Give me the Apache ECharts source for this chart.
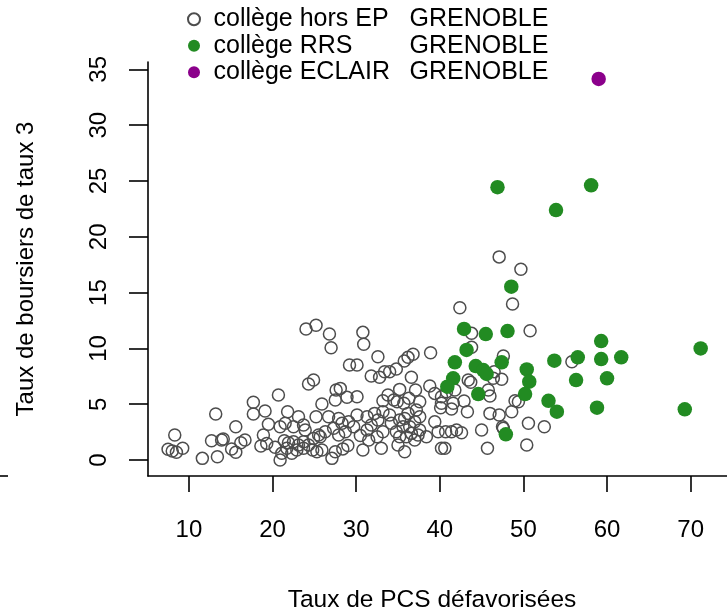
<!DOCTYPE html>
<html>
<head>
<meta charset="utf-8">
<script src="https://cdn.jsdelivr.net/npm/echarts@6/dist/echarts.min.js"></script>
<style>
html,body{margin:0;padding:0;background:#fff;}
#chart{width:727px;height:610px;}
</style>
</head>
<body>
<div id="chart"></div>
<script>
// ---- data ----
var seriesNames = ['collège hors EP', 'collège RRS', 'collège ECLAIR'];
var cityName = 'GRENOBLE';
var xTicks = [10, 20, 30, 40, 50, 60, 70];
var yTicks = [0, 5, 10, 15, 20, 25, 30, 35];
var xTitle = 'Taux de PCS défavorisées';
var yTitle = 'Taux de boursiers de taux 3';

var horsEP = [
  [7.5,0.96],[8.0,0.81],[8.5,0.69],[9.25,1.05],[8.3,2.24],[11.6,0.15],[13.4,0.3],[12.7,1.73],[13.9,1.79],[14.1,1.88],
  [13.2,4.12],[15.1,0.99],[15.6,0.69],[16.2,1.55],[16.7,1.79],[15.6,2.98],[17.7,5.17],[17.7,4.12],[19.1,4.39],[18.9,2.24],
  [18.6,1.25],[19.3,1.49],[19.5,3.2],
  [20.3,1.14],[20.9,0],[20.9,2.98],[20.7,5.82],[21.5,3.29],[21.8,4.33],[22.5,2.98],[23.1,3.88],[23.7,3.14],[23.9,2.69],
  [21.4,1.73],[21.9,1.55],[22.5,1.64],[23.1,1.34],[23.7,1.64],[24.3,1.34],[24.8,0.9],[25.3,0.74],[25.9,0.9],[21.7,1.05],
  [22.3,0.6],[21.1,0.6],[22.9,0.9],[23.7,1.05],[24.0,11.74],[25.2,12.07],[24.3,6.81],[24.9,7.17],[24.9,1.94],[25.5,2.24],[25.2,3.88],
  [26.8,11.29],[27.0,10.06],[25.9,5.02],[27.6,6.27],[27.5,5.38],[26.7,3.88],[27.9,3.73],[28.3,3.29],[29.1,3.43],[29.7,2.98],
  [28.7,2.54],[27.9,2.24],[27.3,2.84],[26.3,2.54],[25.7,2.09],[27.1,0.15],[27.5,0.74],[28.1,6.42],[28.9,5.62],[30.1,5.67],
  [29.2,8.51],[30.1,8.51],[30.8,11.44],[30.9,10.37],[30.1,4.03],[30.8,0.9],[29.0,1.3],[28.4,1.0],
  [31.3,3.88],[32.2,4.18],[33.2,4.33],[34.0,4.03],[32.6,3.58],[31.8,3.14],[31.3,2.69],[32.5,2.09],[33.2,2.54],[34.2,3.29],
  [33.0,1.05],[32.6,9.26],[31.8,7.53],[32.8,7.41],[33.4,7.91],[34.0,7.91],[34.8,8.15],[33.8,5.82],[34.5,5.38],[33.2,5.31],
  [34.9,5.22],[34.8,2.54],[35.0,1.34],[31.5,1.8],[30.5,2.2],
  [35.2,6.33],[35.7,5.08],[36.3,5.53],[37.1,6.27],[37.6,5.22],[35.75,8.87],[36.2,9.2],[36.8,9.47],[36.6,7.41],[38.8,6.63],
  [38.9,9.61],[35.2,3.58],[35.8,3.73],[36.2,4.18],[37.2,4.48],[37.6,3.88],[37.0,3.43],[36.4,2.98],[35.6,2.98],[35.2,2.09],
  [36.0,2.09],[36.6,2.39],[37.4,2.24],[37.0,1.79],[38.4,2.09],[35.8,0.74],[39.4,3.43],[39.8,2.54],[39.4,5.97],[37.6,2.69],
  [40.2,5.67],[40.8,6.12],[41.8,6.27],[42.9,5.29],[43.3,4.33],[40.2,5.08],[41.6,5.08],[41.4,4.57],[40.1,4.69],[40.7,2.54],
  [41.4,2.54],[42.0,2.69],[42.6,2.45],[45.0,2.69],[47.5,2.98],[48.6,4.33],[49.4,5.22],[40.2,1.05],[40.6,1.05],[45.7,1.05],
  [42.4,13.65],[48.7,13.98],[47.1,18.2],[49.7,17.1],[50.8,11.59],[43.8,11.35],[43.8,10.1],[55.8,8.81],[47.6,9.32],[46.5,7.91],
  [43.4,7.17],[43.7,6.96],[46.4,7.32],[47.4,7.23],[45.8,6.27],[46.0,5.73],[49.0,5.31],[46.0,4.18],[47.1,4.03],[50.6,3.29],
  [52.5,2.98],[47.6,2.84],[50.4,1.34]
];
var rrs = [
  [46.9,24.44],[58.1,24.61],[53.9,22.4],[48.55,15.53],[42.9,11.74],[45.5,11.29],[48.1,11.56],[59.3,10.66],[71.2,10.0],
  [43.2,9.86],[41.8,8.75],[47.4,8.75],[44.3,8.42],[45.2,8.06],[45.6,7.71],[50.4,8.12],[53.7,8.9],[56.5,9.2],[59.3,9.05],
  [61.7,9.2],[41.6,7.32],[40.9,6.57],[50.7,7.02],[56.3,7.17],[60.0,7.32],[44.6,5.91],[50.2,5.91],[53.0,5.31],[54.0,4.33],
  [58.8,4.69],[69.3,4.54],[47.9,2.3]
];
var eclair = [[59.0,34.14]];

// ---- chart ----
var FONT = '"Liberation Sans", Arial, Helvetica, sans-serif';
var chart = echarts.init(document.getElementById('chart'), null, {renderer: 'canvas'});
var fullNames = seriesNames.map(function (n) { return n + '  ' + cityName; });

var option = {
  animation: false,
  backgroundColor: '#ffffff',
  textStyle: {fontFamily: FONT},
  grid: {left: 148, right: 0, top: 62, bottom: 134, containLabel: false, outerBoundsMode: 'none'},
  legend: {
    orient: 'vertical',
    left: 187,
    top: 6,
    padding: 0,
    itemWidth: 29,
    itemHeight: 12,
    itemGap: 0,
    data: fullNames,
    formatter: function (name) {
      var i = fullNames.indexOf(name);
      return '{a|' + seriesNames[i] + '}{b|' + cityName + '}';
    },
    textStyle: {
      fontFamily: FONT,
      fontSize: 25,
      lineHeight: 26.5,
      color: '#000',
      rich: {
        a: {fontFamily: FONT, fontSize: 25, color: '#000', width: 196, lineHeight: 26.5},
        b: {fontFamily: FONT, fontSize: 25, color: '#000', lineHeight: 26.5}
      }
    }
  },
  xAxis: {
    type: 'value',
    min: 5.1,
    max: 74.35,
    name: xTitle,
    nameLocation: 'middle',
    nameGap: 112,
    nameTextStyle: {fontFamily: FONT, fontSize: 24.5, color: '#000', padding: [0, 11, 0, 0]},
    axisLine: {show: true, onZero: false, lineStyle: {color: '#000', width: 1.6}},
    axisTick: {show: true, customValues: xTicks, length: 16, lineStyle: {color: '#000', width: 1.6}},
    axisLabel: {show: true, customValues: xTicks, margin: 42, fontFamily: FONT, fontSize: 24, color: '#000'},
    splitLine: {show: false}
  },
  yAxis: {
    type: 'value',
    min: -1.43,
    max: 35.66,
    name: yTitle,
    nameLocation: 'middle',
    nameGap: 110,
    nameRotate: 90,
    nameTextStyle: {fontFamily: FONT, fontSize: 24, color: '#000'},
    axisLine: {show: true, onZero: false, lineStyle: {color: '#000', width: 1.6}},
    axisTick: {show: true, customValues: yTicks, length: 19, lineStyle: {color: '#000', width: 1.6}},
    axisLabel: {show: true, customValues: yTicks, rotate: 90, margin: 37, fontFamily: FONT, fontSize: 24, color: '#000'},
    splitLine: {show: false}
  },
  series: [
    {
      name: fullNames[0],
      type: 'scatter',
      data: horsEP,
      symbol: 'circle',
      symbolSize: 12,
      itemStyle: {color: 'rgba(0,0,0,0)', borderColor: '#4d4d4d', borderWidth: 1.5, opacity: 1}
    },
    {
      name: fullNames[1],
      type: 'scatter',
      data: rrs,
      symbol: 'circle',
      symbolSize: 14.5,
      itemStyle: {color: '#228B22', opacity: 1}
    },
    {
      name: fullNames[2],
      type: 'scatter',
      data: eclair,
      symbol: 'circle',
      symbolSize: 14.5,
      itemStyle: {color: '#8B008B', opacity: 1}
    }
  ],
  graphic: [
    {type: 'line', shape: {x1: 0, y1: 476, x2: 8, y2: 476}, style: {stroke: '#000', lineWidth: 1.6}}
  ]
};
chart.setOption(option);
</script>
</body>
</html>
